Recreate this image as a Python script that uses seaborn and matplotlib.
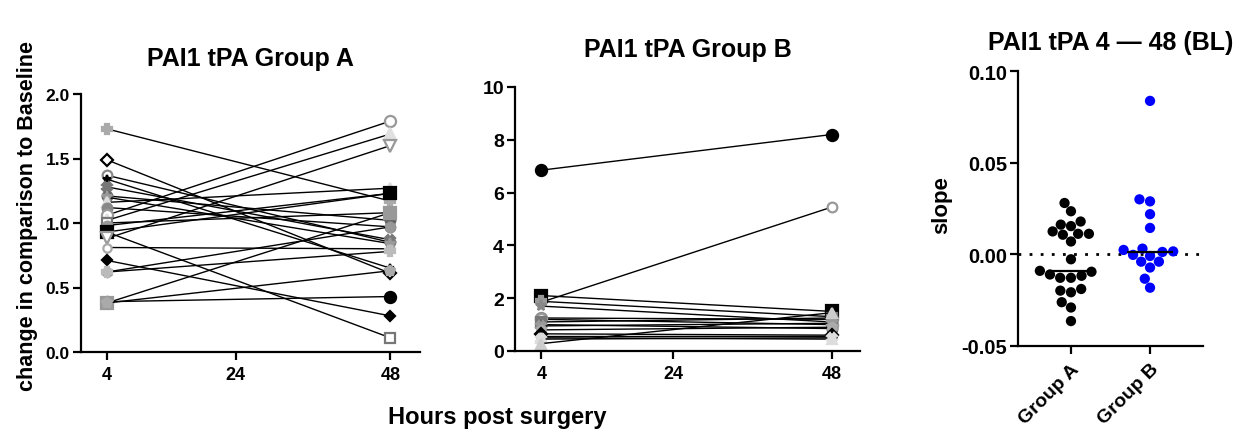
import numpy as np
import pandas as pd
import matplotlib
matplotlib.use("Agg")
import matplotlib.pyplot as plt
from matplotlib.ticker import FormatStrFormatter
import seaborn as sns

# ---------------- data ----------------
hours = [4, 48]
hour_ticks = [4, 24, 48]

group_a_4h = [1.73, 1.49, 1.37, 1.34, 1.28, 1.21, 1.20, 1.16, 1.12, 1.06, 1.02, 1.00,
              0.98, 0.93, 0.93, 0.88, 0.81, 0.71, 0.62, 0.62, 0.39, 0.38, 0.38]
group_a_48h = [1.17, 0.61, 0.85, 0.65, 0.87, 1.02, 0.84, 1.27, 0.97, 1.79, 1.69, 1.08,
               1.23, 0.11, 1.23, 1.60, 0.80, 0.28, 0.97, 0.78, 0.43, 1.08, 0.63]

group_b_4h = [6.85, 1.85, 2.10, 1.88, 1.70, 1.25, 1.20, 1.10, 1.00, 0.95, 0.80, 0.65,
              0.55, 0.50, 0.45, 0.28]
group_b_48h = [8.20, 5.45, 1.50, 1.30, 1.10, 1.20, 1.00, 1.25, 0.85, 1.05, 0.90, 0.60,
               0.55, 0.45, 0.50, 1.45]

slope_group_a = [0.0280, 0.0235, 0.0162, 0.0179, 0.0154, 0.0112, 0.0125, 0.0112, 0.0107,
                 0.0070, -0.0027, -0.0128, -0.0110, -0.0090, -0.0128, -0.0117, -0.0095,
                 -0.0189, -0.0207, -0.0198, -0.0261, -0.0290, -0.0364]
slope_group_b = [0.0837, 0.0289, 0.0300, 0.0219, 0.0144, -0.0003, 0.0016, 0.0031, 0.0013,
                 -0.0009, 0.0024, -0.0040, -0.0072, -0.0040, -0.0133, -0.0182]
group_names = ["Group A", "Group B"]

# ---------------- styles ----------------
W, H = 1242, 435
styles_a = [("P", "#aaaaaa", "#aaaaaa", 7), ("D", "white", "black", 6.5), ("o", "white", "#888888", 7),
            ("*", "black", "black", 6), ("X", "#777777", "#777777", 7), ("o", "#666666", "#666666", 7),
            ("*", "#999999", "#999999", 8), ("^", "#dddddd", "#dddddd", 7), ("o", "#888888", "#888888", 7),
            ("o", "white", "#999999", 8), ("^", "#e0e0e0", "#e0e0e0", 8), ("s", "white", "#777777", 7),
            ("o", "#999999", "#999999", 7), ("s", "white", "#777777", 7), ("s", "black", "black", 8),
            ("v", "white", "#999999", 8), ("o", "white", "#aaaaaa", 6), ("D", "black", "black", 5),
            ("h", "#999999", "#999999", 7), ("P", "#bbbbbb", "#bbbbbb", 7), ("o", "black", "black", 8),
            ("s", "#999999", "#999999", 8), ("p", "#aaaaaa", "#aaaaaa", 7)]
styles_b = [("o", "black", "black", 8), ("o", "white", "#999999", 7), ("s", "black", "black", 8),
            ("P", "#999999", "#999999", 7), ("*", "#888888", "#888888", 8), ("o", "#888888", "#888888", 8),
            ("o", "white", "#999999", 8), ("s", "#777777", "#777777", 7), ("o", "#666666", "#666666", 7),
            ("X", "#999999", "#999999", 7), ("h", "#aaaaaa", "#aaaaaa", 7), ("D", "black", "black", 6),
            ("o", "black", "black", 6), ("^", "#dddddd", "#dddddd", 7), ("X", "#dddddd", "#dddddd", 7),
            ("^", "#cccccc", "#cccccc", 7)]

sns.set_theme(style="ticks")
plt.rcParams["font.family"] = ["Liberation Sans", "DejaVu Sans"]
plt.rcParams["font.weight"] = "bold"
plt.rcParams["axes.linewidth"] = 1.6
for k in ["text.color", "axes.labelcolor", "xtick.color", "ytick.color", "axes.edgecolor"]:
    plt.rcParams[k] = "black"

fig = plt.figure(figsize=(W / 100, H / 100), dpi=100)


def axes_px(l, t, r, b):
    return fig.add_axes([l / W, 1 - b / H, (r - l) / W, (b - t) / H])


axA = axes_px(81, 95, 420, 353)
axB = axes_px(515, 88, 860, 352)
axC = axes_px(1018, 72, 1203, 347)


def draw_lines(ax, v4, v48, styles):
    for i, (a, b) in enumerate(zip(v4, v48)):
        m, fc, ec, ms = styles[i % len(styles)]
        df = pd.DataFrame({"h": hours, "v": [a, b]})
        sns.lineplot(data=df, x="h", y="v", ax=ax, color="black", lw=1.0, marker=m,
                     markersize=ms, markerfacecolor=fc, markeredgecolor=ec,
                     markeredgewidth=1.6, clip_on=False)


def style_axis(ax, fs_y, fs_x):
    sns.despine(ax=ax)
    ax.tick_params(axis="both", length=6, width=1.6, pad=2, color="black")
    ax.tick_params(axis="y", labelsize=fs_y)
    ax.tick_params(axis="x", labelsize=fs_x, pad=4)
    for lab in ax.get_xticklabels() + ax.get_yticklabels():
        lab.set_fontweight("bold")
    ax.set_xlabel("")
    ax.set_ylabel("")


draw_lines(axA, group_a_4h, group_a_48h, styles_a)
axA.set_xlim(0, 52.6)
axA.set_ylim(0, 2.0)
axA.set_xticks(hour_ticks)
axA.set_yticks([0, 0.5, 1.0, 1.5, 2.0])
axA.yaxis.set_major_formatter(FormatStrFormatter("%.1f"))
style_axis(axA, 12.5, 13)
axA.set_title("PAI1 tPA Group A", fontsize=18, fontweight="bold", pad=21)

draw_lines(axB, group_b_4h, group_b_48h, styles_b)
axB.set_xlim(0, 52.3)
axB.set_ylim(0, 10)
axB.set_xticks(hour_ticks)
axB.set_yticks([0, 2, 4, 6, 8, 10])
style_axis(axB, 14, 13)
axB.set_title("PAI1 tPA Group B", fontsize=18, fontweight="bold", pad=22)

# slope panel
df_s = pd.DataFrame({"group": [group_names[0]] * len(slope_group_a) + [group_names[1]] * len(slope_group_b),
                     "slope": slope_group_a + slope_group_b})
axC.axhline(0, ls=(0, (1, 3)), color="black", lw=2, zorder=0)
sns.swarmplot(data=df_s, x="group", y="slope", hue="group", palette=["black", "#0000ff"],
              size=7.4, ax=axC, legend=False, zorder=3)
sns.boxplot(data=df_s, x="group", y="slope", ax=axC, showbox=False, showcaps=False,
            showfliers=False, whiskerprops={"visible": False},
            medianprops={"color": "black", "lw": 1.6}, width=0.57, zorder=4)
axC.set_xlim(-0.67, 1.67)
axC.set_ylim(-0.05, 0.10)
axC.set_yticks([-0.05, 0.0, 0.05, 0.10])
axC.yaxis.set_major_formatter(FormatStrFormatter("%.2f"))
style_axis(axC, 14.5, 14)
for lab in axC.get_xticklabels():
    lab.set_rotation(45)
    lab.set_ha("right")
    lab.set_rotation_mode("anchor")
    lab.set_fontsize(14)
axC.set_title("PAI1 tPA 4 \u2014 48 (BL)", fontsize=18, fontweight="bold", pad=16)

fig.text(28 / W, 1 - 216 / H, "change in comparison to Baseline", rotation=90,
         ha="center", va="center", fontsize=15.5, fontweight="bold")
fig.text(497 / W, 1 - 418 / H, "Hours post surgery", ha="center", va="center",
         fontsize=17, fontweight="bold")
fig.text(942 / W, 1 - 205 / H, "slope", rotation=90, ha="center", va="center",
         fontsize=16, fontweight="bold")

fig.savefig("out.png", dpi=100)
